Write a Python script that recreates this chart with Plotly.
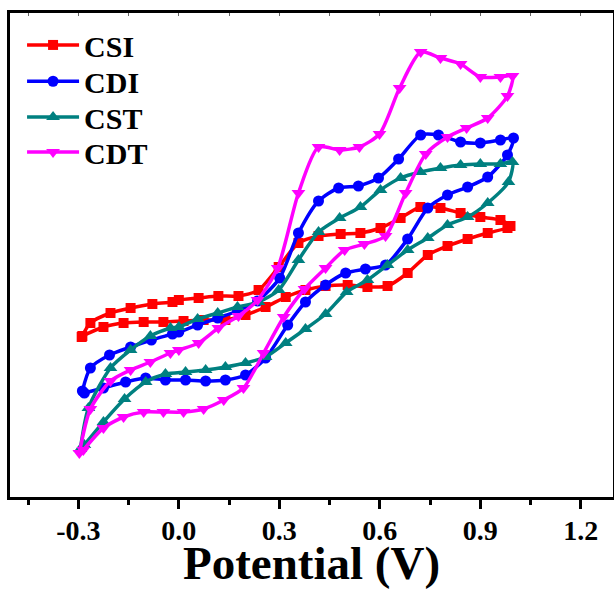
import plotly.graph_objects as go

# ---- data (potential in V, current in arbitrary units) ----
csi_x = [-0.290, -0.264, -0.204, -0.144, -0.079, -0.019, 0.000, 0.059, 0.118, 0.178, 0.238, 0.298,
         0.357, 0.417, 0.483, 0.542, 0.602, 0.662, 0.721, 0.781, 0.841, 0.900, 0.960, 0.990,
         0.981, 0.922, 0.862, 0.802, 0.743, 0.683, 0.623, 0.563, 0.504, 0.438, 0.378, 0.319,
         0.259, 0.199, 0.139, 0.074, 0.014, -0.046, -0.105, -0.165, -0.225, -0.288]
csi_y = [1.60, 1.74, 1.84, 1.89, 1.93, 1.95, 1.97, 1.99, 2.01, 2.01, 2.07, 2.30,
         2.54, 2.61, 2.63, 2.64, 2.69, 2.79, 2.90, 2.89, 2.84, 2.80, 2.77, 2.71,
         2.69, 2.64, 2.58, 2.51, 2.42, 2.24, 2.11, 2.10, 2.12, 2.11, 2.07, 2.00,
         1.90, 1.82, 1.77, 1.77, 1.76, 1.75, 1.75, 1.74, 1.70, 1.61]

cdi_x = [-0.288, -0.264, -0.207, -0.144, -0.082, -0.019, 0.000, 0.056, 0.116, 0.175, 0.235, 0.301,
         0.357, 0.417, 0.477, 0.536, 0.596, 0.656, 0.722, 0.775, 0.841, 0.900, 0.960, 0.999,
         0.981, 0.922, 0.862, 0.802, 0.743, 0.683, 0.617, 0.557, 0.498, 0.438, 0.378, 0.325,
         0.259, 0.199, 0.139, 0.080, 0.020, -0.040, -0.099, -0.159, -0.225, -0.282]
cdi_y = [1.06, 1.29, 1.42, 1.50, 1.57, 1.63, 1.65, 1.72, 1.79, 1.86, 1.96, 2.19,
         2.64, 2.96, 3.09, 3.11, 3.19, 3.38, 3.62, 3.62, 3.55, 3.54, 3.57, 3.59,
         3.42, 3.20, 3.10, 3.02, 2.89, 2.58, 2.32, 2.28, 2.24, 2.12, 1.95, 1.72,
         1.39, 1.22, 1.17, 1.16, 1.17, 1.17, 1.19, 1.15, 1.09, 1.04]

cst_x = [-0.294, -0.270, -0.204, -0.144, -0.085, -0.025, 0.000, 0.056, 0.116, 0.175, 0.238, 0.298,
         0.357, 0.417, 0.480, 0.542, 0.602, 0.662, 0.721, 0.781, 0.841, 0.900, 0.960, 0.996,
         0.984, 0.922, 0.862, 0.802, 0.743, 0.683, 0.623, 0.563, 0.501, 0.438, 0.378, 0.319,
         0.259, 0.199, 0.139, 0.080, 0.020, -0.040, -0.099, -0.162, -0.225, -0.282]
cst_y = [0.48, 0.89, 1.29, 1.47, 1.61, 1.69, 1.70, 1.78, 1.84, 1.90, 1.95, 2.07,
         2.37, 2.65, 2.79, 2.90, 3.07, 3.19, 3.25, 3.29, 3.32, 3.33, 3.33, 3.35,
         3.15, 2.94, 2.80, 2.72, 2.59, 2.47, 2.32, 2.17, 2.05, 1.83, 1.68, 1.54,
         1.40, 1.34, 1.30, 1.27, 1.25, 1.23, 1.15, 0.98, 0.75, 0.52]

cdt_x = [-0.297, -0.264, -0.204, -0.144, -0.085, -0.025, 0.000, 0.059, 0.118, 0.178, 0.235, 0.295,
         0.357, 0.417, 0.480, 0.539, 0.599, 0.659, 0.722, 0.781, 0.841, 0.900, 0.960, 0.996,
         0.981, 0.922, 0.859, 0.802, 0.737, 0.677, 0.617, 0.554, 0.495, 0.438, 0.375, 0.313,
         0.253, 0.193, 0.134, 0.074, 0.014, -0.046, -0.105, -0.165, -0.225, -0.285]
cdt_y = [0.44, 0.88, 1.16, 1.27, 1.35, 1.44, 1.47, 1.54, 1.69, 1.81, 1.97, 2.29,
         3.04, 3.50, 3.47, 3.50, 3.63, 4.09, 4.45, 4.39, 4.33, 4.20, 4.20, 4.21,
         4.01, 3.79, 3.69, 3.60, 3.43, 3.04, 2.61, 2.53, 2.47, 2.29, 2.08, 1.80,
         1.44, 1.09, 0.97, 0.88, 0.85, 0.85, 0.85, 0.80, 0.69, 0.47]

names = ["CSI", "CDI", "CST", "CDT"]
colors = ["#FF0000", "#0000FF", "#008080", "#FF00FF"]
symbols = ["square", "circle", "triangle-up", "triangle-down"]
sizes = [10, 11, 12, 12]
xs = [csi_x, cdi_x, cst_x, cdt_x]
ys = [csi_y, cdi_y, cst_y, cdt_y]

tick_vals = [-0.3, 0.0, 0.3, 0.6, 0.9, 1.2]
tick_text = ["-0.3", "0.0", "0.3", "0.6", "0.9", "1.2"]

FONT = "Liberation Serif"
legend_ids = ["legend", "legend2", "legend3", "legend4"]
legend_y = [0.934, 0.859, 0.785, 0.713]

fig = go.Figure()
for n, c, s, sz, x, y, lid in zip(names, colors, symbols, sizes, xs, ys, legend_ids):
    fig.add_trace(go.Scatter(
        x=x, y=y, name=n, mode="lines+markers", legend=lid,
        line=dict(color=c, width=3.5, shape="spline", smoothing=0.7),
        marker=dict(color=c, symbol=s, size=sz, line=dict(width=0)),
    ))

# dummy trace for the top axis (inner ticks)
fig.add_trace(go.Scatter(x=[None], y=[None], xaxis="x2", showlegend=False, hoverinfo="skip"))

legend_common = dict(x=0.02, xanchor="left", yanchor="middle",
                     bgcolor="rgba(0,0,0,0)", borderwidth=0, itemwidth=52,
                     font=dict(family=FONT, size=30, color="black", weight="bold"))

fig.update_layout(
    width=614, height=589,
    margin=dict(l=10, r=1, t=13, b=92),
    paper_bgcolor="white", plot_bgcolor="white",
    showlegend=True,
    legend=dict(y=legend_y[0], **legend_common),
    legend2=dict(y=legend_y[1], **legend_common),
    legend3=dict(y=legend_y[2], **legend_common),
    legend4=dict(y=legend_y[3], **legend_common),
    xaxis=dict(
        range=[-0.504, 1.296], tickmode="array", tickvals=tick_vals, ticktext=tick_text,
        ticks="outside", ticklen=9, tickwidth=2.5, tickcolor="black",
        showline=True, linewidth=2.5, linecolor="black", mirror=True,
        showgrid=False, zeroline=False, ticklabelstandoff=-2, automargin=False,
        tickfont=dict(family=FONT, size=28, color="black", weight="bold"),
        minor=dict(tickmode="linear", tick0=-0.45, dtick=0.3, ticks="outside",
                   ticklen=5, tickwidth=2.5, tickcolor="black", showgrid=False),
        title=dict(text="Potential (V)", standoff=13,
                   font=dict(family=FONT, size=47, color="black", weight="bold")),
    ),
    xaxis2=dict(
        overlaying="x", side="top", matches="x", range=[-0.504, 1.296],
        tickmode="linear", tick0=0, dtick=0.15, ticks="inside", ticklen=3,
        tickwidth=1, tickcolor="#666666", showticklabels=False, automargin=False,
        showline=False, showgrid=False, zeroline=False,
    ),
    yaxis=dict(
        range=[0.0, 4.84], showticklabels=False, ticks="", automargin=False,
        showline=True, linewidth=2.5, linecolor="black", mirror=True,
        showgrid=False, zeroline=False,
    ),
)

fig.write_html(
    "out.html",
    config={"displayModeBar": False},
    post_script="document.body.style.margin='0';document.body.style.overflow='hidden';",
)
